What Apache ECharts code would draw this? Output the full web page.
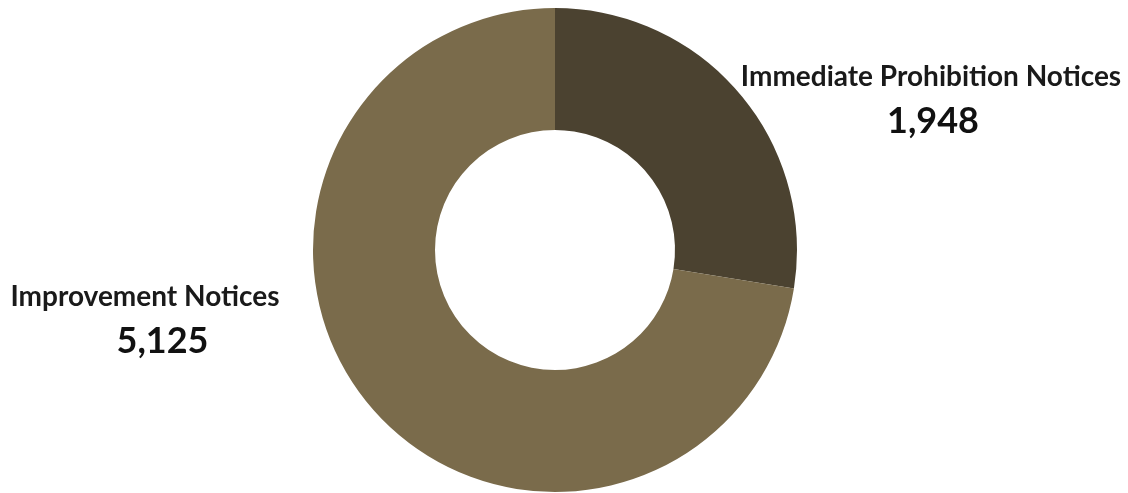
<!DOCTYPE html>
<html>
<head>
<meta charset="utf-8">
<script src="https://cdn.jsdelivr.net/npm/echarts@6/dist/echarts.min.js"></script>
<style>
  html, body { margin: 0; padding: 0; background: #ffffff; }
  #chart { width: 1128px; height: 493px; }
</style>
</head>
<body>
<div id="chart"></div>
<script>
// Notice types and counts
const categories = ['Immediate Prohibition Notices', 'Improvement Notices'];
const counts = [1948, 5125];
const sliceColors = ['#4b4230', '#7a6b4b'];

// Label anchor points (pixel positions) for each slice's caption
const labelAnchors = [[931, 101], [145, 321]];
const valueShift = [4, 35];

const chart = echarts.init(document.getElementById('chart'));

const fmt = v => v.toLocaleString('en-US');

chart.setOption({
  animation: false,
  series: [{
    type: 'pie',
    center: [555, 250],
    radius: [120, 242],
    startAngle: 90,
    clockwise: true,
    silent: true,
    labelLine: { show: false },
    data: categories.map((name, i) => ({
      name: name,
      value: counts[i],
      itemStyle: { color: sliceColors[i] },
      label: {
        show: true,
        position: 'outside',
        overflow: 'none',
        width: 500,
        formatter: p => '{t|' + p.name + '}\n{v|' + fmt(p.value) + '}',
        rich: {
          t: { fontFamily: 'Lato', fontWeight: 'bold', fontSize: 28, color: '#1a1a1a', lineHeight: 40, align: 'center' },
          v: { fontFamily: 'Lato', fontWeight: 'bold', fontSize: 36, color: '#111111', lineHeight: 48, align: 'center', padding: [0, 0, 0, valueShift[i]] }
        }
      }
    }))
  }]
});

chart.setOption({
  series: [{
    labelLayout: function (params) {
      const a = labelAnchors[params.dataIndex];
      return { x: a[0], y: a[1], align: 'center', verticalAlign: 'middle' };
    }
  }]
});
</script>
</body>
</html>
